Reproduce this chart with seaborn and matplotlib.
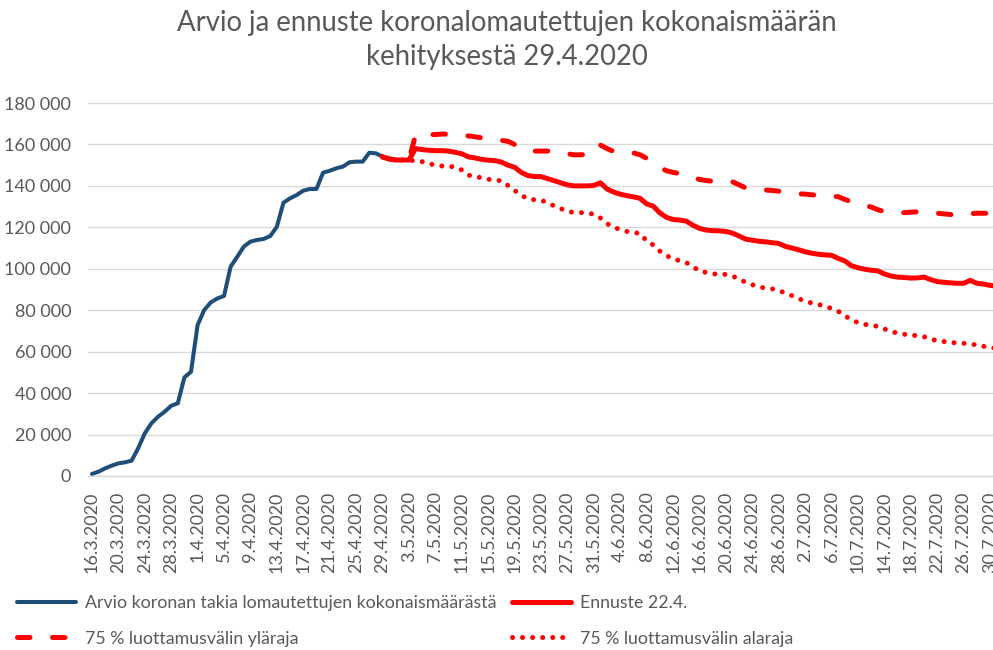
import numpy as np
import pandas as pd
import matplotlib
matplotlib.use("Agg")
import matplotlib.pyplot as plt
import matplotlib.ticker as mticker
import seaborn as sns

# ---------------- data ----------------
start_actual = "2020-03-16"
actual = [1000, 2100, 3700, 5000, 6100, 6600, 7400, 13400, 20600, 25400,
          28600, 31000, 33900, 35100, 47600, 50300, 72900, 80100, 83800, 85700,
          86900, 101000, 105800, 110700, 113100, 113900, 114400, 115800, 120300, 131900,
          134000, 135600, 137700, 138500, 138500, 146400, 147300, 148500, 149300, 151400,
          151700, 151700, 156000, 155700, 154100]

start_forecast = "2020-04-29"
forecast = [154000, 153000, 152500, 152500, 152500,
            158000, 157500, 157200, 157000, 157000, 156800, 156200, 155500, 154000, 153500,
            152800, 152400, 152200, 151500, 150000, 149000, 146500, 145000, 144500, 144500,
            143500, 142500, 141500, 140500, 140000, 140000, 140000, 140200, 141500, 138500,
            137000, 136000, 135300, 134700, 134000, 131300, 130200, 127000, 124800, 123800,
            123500, 123000, 121000, 119500, 118700, 118400, 118300, 118000, 117200, 115800,
            114300, 113800, 113300, 113000, 112600, 112200, 110800, 110000, 109200, 108200,
            107500, 107000, 106700, 106500, 105000, 103800, 101500, 100500, 99800, 99300,
            99000, 97500, 96500, 96000, 95800, 95500, 95600, 96000, 94800, 93800,
            93500, 93200, 93000, 93000, 94400, 93000, 92600, 92000, 91600]

upper = [154000, 153000, 152500, 152500, 152500,
         164500, 164600, 164700, 164800, 165000, 165000, 164700, 164400, 164100, 163700,
         163200, 162800, 162300, 162000, 161500, 160000, 158000, 157000, 156800, 156800,
         156800, 156800, 156200, 155500, 155000, 155000, 155300, 155600, 159700, 158000,
         156600, 156300, 156000, 155900, 155000, 153300, 151000, 149000, 147300, 146500,
         146000, 145500, 144000, 143100, 142600, 142200, 142100, 142100, 142000, 140500,
         139000, 138500, 138200, 138000, 137800, 137400, 137000, 136600, 136200, 136000,
         135700, 135400, 135200, 135000, 134800, 133500, 132300, 131500, 130600, 129800,
         128500, 127600, 127300, 127100, 127100, 127300, 127500, 127600, 127200, 126800,
         126500, 126200, 125800, 126000, 126600, 126800, 126800, 126800, 126800]

lower = [154000, 153000, 152500, 152500, 152500,
         152000, 151700, 150800, 150000, 149600, 149600, 149000, 147700, 145200, 144300,
         144000, 143200, 142700, 142500, 140200, 137800, 135500, 133800, 133300, 133000,
         132000, 130300, 129000, 127800, 127100, 127100, 127000, 126300, 124500, 121800,
         120000, 119000, 118000, 117400, 117100, 113400, 111500, 108500, 106300, 105000,
         103800, 103000, 101000, 99000, 98200, 97600, 97300, 97300, 96500, 95000,
         93500, 92300, 91300, 90600, 90300, 89500, 88300, 87000, 85600, 84300,
         83500, 82800, 82000, 80800, 79500, 77300, 75500, 74000, 73200, 72700,
         72200, 71000, 69700, 69000, 68400, 68000, 67700, 67200, 66200, 65200,
         64900, 64600, 64100, 64000, 63800, 63200, 62600, 62100, 61600]

labels = ["Arvio koronan takia lomautettujen kokonaismäärästä",
          "Ennuste 22.4.",
          "75 % luottamusvälin yläraja",
          "75 % luottamusvälin alaraja"]
title = "Arvio ja ennuste koronalomautettujen kokonaismäärän\nkehityksestä 29.4.2020"
y_ticks = [0, 20000, 40000, 60000, 80000, 100000, 120000, 140000, 160000, 180000]

# ---------------- plotting ----------------
sns.set_theme(style="white")
plt.rcParams["font.family"] = ["Lato", "DejaVu Sans"]

d_act = pd.date_range(start_actual, periods=len(actual), freq="D")
d_fc = pd.date_range(start_forecast, periods=len(forecast), freq="D")

fig = plt.figure(figsize=(9.93, 6.5), dpi=100)
W, H = 993, 650
ax = fig.add_axes([88 / W, 1 - 476 / H, (W - 88) / W, (476 - 103) / H])

BLUE = "#1F4E79"
RED = "#FF0000"
TXT = "#595959"

sns.lineplot(x=d_act, y=actual, ax=ax, color=BLUE, lw=2.9)
sns.lineplot(x=d_fc, y=upper, ax=ax, color=RED, lw=3.6,
             linestyle=(0, (2.5, 4.5)), dash_capstyle="round")
sns.lineplot(x=d_fc, y=forecast, ax=ax, color=RED, lw=3.6,
             solid_capstyle="round", solid_joinstyle="round")
sns.lineplot(x=d_fc, y=lower, ax=ax, color=RED, lw=3.6,
             linestyle=(0, (0.01, 2.0)), dash_capstyle="round")

lines = ax.get_lines()
l_blue, l_up, l_fc, l_lo = lines[0], lines[1], lines[2], lines[3]

# x axis
x0 = pd.Timestamp(start_actual)
xt = pd.date_range(x0, pd.Timestamp("2020-07-31"), freq="4D")
ax.set_xticks(xt)
ax.set_xticklabels([f"{t.day}.{t.month}.{t.year}" for t in xt], rotation=90,
                   fontsize=13, color=TXT)
ax.set_xlim(x0 - pd.Timedelta(days=0.6), x0 + pd.Timedelta(days=136.45))
ax.tick_params(axis="x", length=0, pad=11)

# y axis
ax.set_ylim(0, 180000)
ax.set_yticks(y_ticks)
ax.yaxis.set_major_formatter(mticker.FuncFormatter(lambda v, p: f"{int(v):,}".replace(",", " ")))
ax.tick_params(axis="y", length=0, pad=12, labelsize=13, labelcolor=TXT)
ax.grid(axis="y", color="#D9D9D9", lw=1.0)
ax.grid(axis="x", visible=False)
for s in ["top", "right", "left"]:
    ax.spines[s].set_visible(False)
ax.spines["bottom"].set_color("#D9D9D9")
ax.spines["bottom"].set_linewidth(1.0)
ax.set_xlabel("")
ax.set_ylabel("")

fig.text(507 / W, 1 - 40 / H, title, ha="center", va="center",
         fontsize=19.8, color=TXT, linespacing=1.4)

leg = fig.legend([l_blue, l_up, l_fc, l_lo],
                 [labels[0], labels[2], labels[1], labels[3]],
                 ncol=2, loc="upper left", bbox_to_anchor=(10 / W, 1 - 588 / H),
                 frameon=False, fontsize=12.8, handlelength=3.3, handletextpad=0.5,
                 labelspacing=1.1, columnspacing=0.9, borderaxespad=0)
for t in leg.get_texts():
    t.set_color(TXT)

fig.savefig("out.png", dpi=100)
